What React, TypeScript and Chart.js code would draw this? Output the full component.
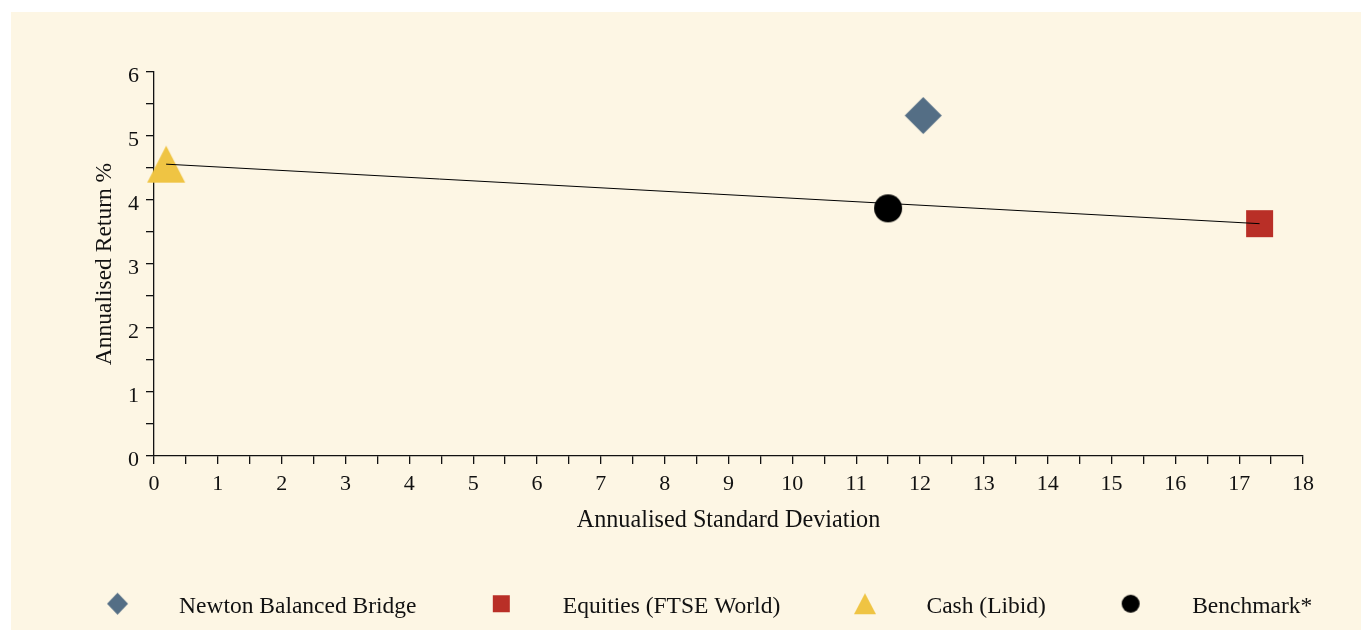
import React, { useEffect, useRef } from 'react';
import { Chart, registerables } from 'chart.js';

Chart.register(...registerables);

// ---- data ----
const seriesNames = ['Newton Balanced Bridge', 'Equities (FTSE World)', 'Cash (Libid)', 'Benchmark*'];
const stdDev = [12.05, 17.32, 0.19, 11.5];
const annReturn = [5.32, 3.63, 4.56, 3.87];
// line joins Cash (index 2) to Equities (index 1)
const lineFromIndex = 2;
const lineToIndex = 1;
const xTickLabels = ['0', '1', '2', '3', '4', '5', '6', '7', '8', '9', '10', '11', '12', '13', '14', '15', '16', '17', '18'];
const yTickLabels = ['0', '1', '2', '3', '4', '5', '6'];
const xTitle = 'Annualised Standard Deviation';
const yTitle = 'Annualised Return %';

// ---- styles ----
const colors = ['#546e85', '#b92f27', '#efc443', '#000000'];
const shapes = ['diamond', 'square', 'triangle', 'circle'];
const chartMarkerSize = [[37, 37], [27, 27], [38, 37], [28, 28]];
const legendMarkerSize = [[21, 22], [17, 17], [22, 21], [18, 18]];
const drawOrder = [4, 2, 3, 0];
const FONT = "'Liberation Serif', 'Times New Roman', serif";
const TEXT = '#111111';
const BG = '#fdf6e4';

function makeMarker(shape: string, color: string, w: number, h: number, shiftUp: number) {
  const c = document.createElement('canvas');
  const cw = Math.ceil(w) + 2;
  const ch = Math.ceil(h) + 2 + shiftUp * 2;
  c.width = cw;
  c.height = ch;
  const ctx = c.getContext('2d')!;
  const cx = cw / 2;
  const cy = ch / 2 - shiftUp;
  ctx.fillStyle = color;
  ctx.beginPath();
  if (shape === 'diamond') {
    ctx.moveTo(cx, cy - h / 2);
    ctx.lineTo(cx + w / 2, cy);
    ctx.lineTo(cx, cy + h / 2);
    ctx.lineTo(cx - w / 2, cy);
    ctx.closePath();
  } else if (shape === 'square') {
    ctx.rect(cx - w / 2, cy - h / 2, w, h);
  } else if (shape === 'triangle') {
    ctx.moveTo(cx, cy - h / 2);
    ctx.lineTo(cx + w / 2, cy + h / 2);
    ctx.lineTo(cx - w / 2, cy + h / 2);
    ctx.closePath();
  } else {
    ctx.arc(cx, cy, w / 2, 0, Math.PI * 2);
  }
  ctx.fill();
  return c;
}

export default function App() {
  const ref = useRef<HTMLCanvasElement | null>(null);

  useEffect(() => {
    if (!ref.current) return;
    const chartImgs = shapes.map((s, i) => makeMarker(s, colors[i], chartMarkerSize[i][0], chartMarkerSize[i][1], 0));
    const legendImgs = shapes.map((s, i) => makeMarker(s, colors[i], legendMarkerSize[i][0], legendMarkerSize[i][1], 3));

    const datasets: any[] = seriesNames.map((name, i) => ({
      type: 'scatter',
      label: name,
      data: [{ x: stdDev[i], y: annReturn[i] }],
      pointStyle: chartImgs[i],
      pointRadius: 12,
      pointHoverRadius: 12,
      backgroundColor: colors[i],
      borderColor: colors[i],
      order: drawOrder[i],
      clip: false,
    }));
    datasets.push({
      type: 'line',
      label: 'line',
      data: [
        { x: stdDev[lineFromIndex], y: annReturn[lineFromIndex] },
        { x: stdDev[lineToIndex], y: annReturn[lineToIndex] },
      ],
      borderColor: '#000000',
      borderWidth: 1,
      pointRadius: 0,
      fill: false,
      tension: 0,
      order: 1,
      clip: false,
    });

    const chart = new Chart(ref.current, {
      type: 'scatter',
      data: { datasets },
      options: {
        animation: false,
        responsive: false,
        events: [],
        layout: { padding: { top: 60, left: 8, right: 0, bottom: 1.5 } },
        plugins: {
          tooltip: { enabled: false },
          legend: {
            display: true,
            position: 'bottom',
            labels: {
              usePointStyle: true,
              pointStyleWidth: 99.5,
              padding: 35,
              color: TEXT,
              font: { family: FONT, size: 23.5 },
              generateLabels: () =>
                seriesNames.map((name, i) => ({
                  text: name,
                  pointStyle: legendImgs[i],
                  fillStyle: colors[i],
                  strokeStyle: colors[i],
                  lineWidth: 0,
                  hidden: false,
                  datasetIndex: i,
                  fontColor: TEXT,
                })),
            },
          },
        },
        scales: {
          x: {
            type: 'linear',
            position: 'bottom',
            min: 0,
            max: 18,
            ticks: {
              stepSize: 0.5,
              autoSkip: false,
              maxRotation: 0,
              padding: 7,
              color: TEXT,
              font: { family: FONT, size: 22 },
              callback: (v: any) => (Number.isInteger(v) ? xTickLabels[v] : ''),
            },
            grid: { display: true, drawOnChartArea: false, drawTicks: true, tickLength: 8, color: TEXT, lineWidth: 1.3 },
            border: { display: true, color: TEXT, width: 1.3 },
            title: { display: true, text: xTitle, color: TEXT, font: { family: FONT, size: 24.2 }, padding: { top: 0, bottom: 25 } },
            afterFit: (s: any) => {
              s.height = 104;
            },
          },
          y: {
            type: 'linear',
            position: 'left',
            min: 0,
            max: 6,
            ticks: {
              stepSize: 0.5,
              autoSkip: false,
              padding: 7,
              labelOffset: 4,
              color: TEXT,
              font: { family: FONT, size: 22 },
              callback: (v: any) => (Number.isInteger(v) ? yTickLabels[v] : ''),
            },
            grid: { display: true, drawOnChartArea: false, drawTicks: true, tickLength: 8, color: TEXT, lineWidth: 1.3 },
            border: { display: true, color: TEXT, width: 1.3 },
            title: { display: true, text: yTitle, color: TEXT, font: { family: FONT, size: 23.5 }, padding: { top: 72, bottom: 0 } },
            afterFit: (s: any) => {
              s.width = 135;
            },
          },
          yRight: {
            type: 'linear',
            position: 'right',
            display: true,
            grid: { display: false },
            border: { display: false },
            ticks: { display: false },
            afterFit: (s: any) => {
              s.width = 58;
            },
          },
        },
      } as any,
    });
    return () => chart.destroy();
  }, []);

  return (
    <div style={{ position: 'fixed', left: 11, top: 12, width: 1350, height: 618, background: BG }}>
      <canvas ref={ref} width={1350} height={618} style={{ display: 'block' }} />
    </div>
  );
}
